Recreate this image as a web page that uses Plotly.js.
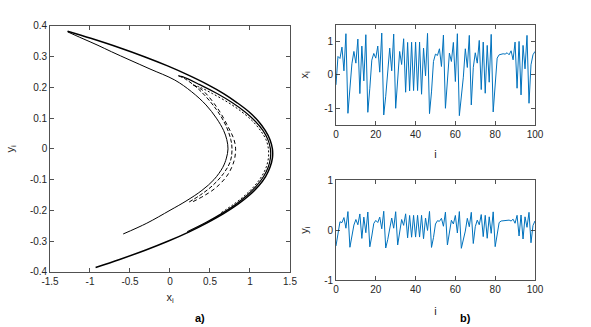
<!DOCTYPE html>
<html>
<head>
<meta charset="utf-8">
<script src="https://cdn.plot.ly/plotly-3.0.1.min.js"></script>
<style>
  html, body { margin: 0; padding: 0; background: #fff; }
  #chart { width: 591px; height: 327px; }
</style>
</head>
<body>
<div id="chart"></div>
<script>
// a) attractor strands (x_i, y_i)
var outerX = [-1.28, -0.99, -0.64, -0.32, -0.03, 0.23, 0.465, 0.67, 0.84, 0.99, 1.105, 1.19, 1.25, 1.28, 1.28, 1.25, 1.195, 1.11, 0.995, 0.85, 0.675, 0.47, 0.24, -0.02, -0.31, -0.63, -0.93];
var outerY = [0.383, 0.36, 0.33, 0.30, 0.27, 0.24, 0.21, 0.18, 0.15, 0.12, 0.09, 0.06, 0.03, 0.0, -0.03, -0.06, -0.09, -0.12, -0.15, -0.18, -0.21, -0.24, -0.27, -0.30, -0.33, -0.36, -0.386];

var innerX = [-1.28, -1.1, -0.9, -0.73, -0.5, -0.25, 0.06, 0.27, 0.45, 0.58, 0.67, 0.71, 0.725, 0.705, 0.66, 0.55, 0.40, 0.2, 0.0, -0.29, -0.585];
var innerY = [0.381, 0.36, 0.337, 0.316, 0.289, 0.26, 0.224, 0.186, 0.143, 0.1, 0.06, 0.03, 0.0, -0.03, -0.06, -0.1, -0.135, -0.17, -0.2, -0.242, -0.277];

// fold near (0.11, 0.24): upper branch into the outer band, lower branch inside
var hook1UpX = [0.105, 0.155, 0.365, 0.588, 0.78, 0.939, 1.066, 1.161, 1.224, 1.255, 1.255, 1.227, 1.17, 1.083, 0.968, 0.823, 0.65, 0.448, 0.216];
var hook1UpY = [0.238, 0.235, 0.21, 0.18, 0.15, 0.12, 0.09, 0.06, 0.03, 0.0, -0.03, -0.06, -0.09, -0.12, -0.15, -0.18, -0.21, -0.24, -0.27];
var hook1LowX = [0.105, 0.2, 0.375, 0.58, 0.7, 0.76, 0.775, 0.755, 0.67, 0.53, 0.38, 0.22];
var hook1LowY = [0.238, 0.226, 0.19, 0.128, 0.075, 0.03, 0.0, -0.04, -0.08, -0.12, -0.15, -0.176];

// fold near (0.29, 0.21)
var hook2UpX = [0.29, 0.38, 0.53, 0.733, 0.9, 1.033, 1.13, 1.2, 1.23, 1.23, 1.202, 1.145, 1.058, 0.943, 0.798, 0.625];
var hook2UpY = [0.208, 0.2, 0.18, 0.15, 0.12, 0.09, 0.06, 0.03, 0.0, -0.03, -0.06, -0.09, -0.12, -0.15, -0.18, -0.21];
var hook2LowX = [0.29, 0.41, 0.6, 0.73, 0.8, 0.82, 0.8, 0.72, 0.58, 0.43, 0.27];
var hook2LowY = [0.208, 0.19, 0.13, 0.07, 0.03, 0.0, -0.04, -0.085, -0.125, -0.152, -0.174];

// b) time series, i = 0..100
var xSeries = [-0.30, 0.55, 0.49, 0.83, 0.12, 1.23, -1.15, -0.48, 0.33, 0.70,
  0.35, 1.07, -0.56, 0.86, -0.18, 1.20, -1.12, -0.40, 0.44, 0.64,
  0.50, 0.86, 0.08, 1.25, -1.20, -0.64, 0.07, 0.80, 0.12, 1.22,
  -1.00, -0.03, 0.70, 0.31, 1.08, -0.52, 0.97, -0.48, 0.975, -0.47,
  0.98, -0.47, 0.98, -0.58, 0.80, -0.03, 1.24, -1.16, -0.51, 0.40,
  0.62, 0.58, 0.78, 0.25, 1.19, -1.00, -0.04, 0.65, 0.40, 0.97,
  -0.20, 1.23, -1.22, -0.71, -0.07, 0.78, 0.22, 1.18, -0.90, 0.22,
  0.66, 0.35, 1.03, -0.44, 0.98, -0.55, 0.88, -0.22, 1.21, -1.11,
  -0.36, 0.50, 0.60, 0.62, 0.63, 0.62, 0.66, 0.60, 0.72, 0.45,
  0.98, -0.40, 1.00, -0.60, 0.88, 0.18, 1.18, -0.85, 0.30, 0.60,
  0.70];
var ySeries = [-0.32, -0.09, 0.165, 0.147, 0.249, 0.036, 0.369, -0.345, -0.144, 0.099,
  0.21, 0.105, 0.321, -0.168, 0.258, -0.054, 0.36, -0.336, -0.12, 0.132,
  0.192, 0.15, 0.258, 0.024, 0.375, -0.36, -0.192, 0.021, 0.24, 0.036,
  0.366, -0.30, -0.009, 0.21, 0.093, 0.324, -0.156, 0.291, -0.144, 0.293,
  -0.141, 0.294, -0.141, 0.294, -0.174, 0.24, -0.009, 0.372, -0.348, -0.153,
  0.12, 0.186, 0.174, 0.234, 0.075, 0.357, -0.30, -0.012, 0.195, 0.12,
  0.291, -0.06, 0.369, -0.366, -0.213, -0.021, 0.234, 0.066, 0.354, -0.27,
  0.066, 0.198, 0.105, 0.309, -0.132, 0.294, -0.165, 0.264, -0.066, 0.363,
  -0.333, -0.108, 0.15, 0.18, 0.186, 0.189, 0.186, 0.198, 0.18, 0.216,
  0.135, 0.294, -0.12, 0.30, -0.18, 0.264, 0.054, 0.354, -0.255, 0.09,
  0.18];
var steps = xSeries.map((v, i) => i);

// tick labels (MATLAB uses a plain hyphen)
var attrXTicks = [-1.5, -1, -0.5, 0, 0.5, 1, 1.5];
var attrXText = ["-1.5", "-1", "-0.5", "0", "0.5", "1", "1.5"];
var attrYTicks = [-0.4, -0.3, -0.2, -0.1, 0, 0.1, 0.2, 0.3, 0.4];
var attrYText = ["-0.4", "-0.3", "-0.2", "-0.1", "0", "0.1", "0.2", "0.3", "0.4"];
var stepTicks = [0, 20, 40, 60, 80, 100];
var seriesTicks = [-1, 0, 1];
var seriesText = ["-1", "0", "1"];

var ink = "#262626";
var blue = "#0072BD";
var fontFam = "Liberation Sans, Arial, sans-serif";

function strand(xs, ys, width, dash) {
    return {
        x: xs, y: ys, xaxis: "x", yaxis: "y",
        type: "scatter", mode: "lines",
        line: { color: "#000", width: width, dash: dash, shape: "spline", smoothing: 1 },
        hoverinfo: "skip", showlegend: false
    };
}

var data = [
    strand(outerX, outerY, 1.5, "solid"),
    strand(innerX, innerY, 1.0, "solid"),
    strand(hook1UpX, hook1UpY, 1.2, "solid"),
    strand(hook1LowX, hook1LowY, 1.0, "4px,2px"),
    strand(hook2UpX, hook2UpY, 1.0, "2px,2px"),
    strand(hook2LowX, hook2LowY, 1.0, "4px,3px"),
    {
        x: steps, y: xSeries, xaxis: "x2", yaxis: "y2",
        type: "scatter", mode: "lines",
        line: { color: blue, width: 1 }, showlegend: false
    },
    {
        x: steps, y: ySeries, xaxis: "x3", yaxis: "y3",
        type: "scatter", mode: "lines",
        line: { color: blue, width: 1 }, showlegend: false
    }
];

function axis(extra) {
    var base = {
        showline: true, mirror: "ticks", linecolor: ink, linewidth: 0.8,
        ticks: "inside", ticklen: 4, tickwidth: 0.8, tickcolor: ink,
        showgrid: false, zeroline: false, fixedrange: true,
        tickfont: { family: fontFam, size: 10, color: ink }
    };
    for (var k in extra) base[k] = extra[k];
    return base;
}
var titleFont = { family: fontFam, size: 11, color: ink };

var layout = {
    width: 591, height: 327,
    margin: { l: 0, r: 0, t: 0, b: 0 },
    paper_bgcolor: "#fff", plot_bgcolor: "#fff",
    showlegend: false, hovermode: false,
    xaxis: axis({ domain: [0.0846, 0.4907], range: [-1.5, 1.5], anchor: "y",
        tickvals: attrXTicks, ticktext: attrXText,
        title: { text: "x<sub>i</sub>", font: titleFont, standoff: 7 } }),
    yaxis: axis({ domain: [0.169, 0.9205], range: [-0.4, 0.4], anchor: "x",
        tickvals: attrYTicks, ticktext: attrYText,
        title: { text: "y<sub>i</sub>", font: titleFont, standoff: 13 } }),
    xaxis2: axis({ domain: [0.5685, 0.9052], range: [0, 100], anchor: "y2",
        tickvals: stepTicks,
        title: { text: "i", font: titleFont, standoff: 11 } }),
    yaxis2: axis({ domain: [0.6177, 0.9245], range: [-1.5, 1.5], anchor: "x2",
        tickvals: seriesTicks, ticktext: seriesText,
        title: { text: "x<sub>i</sub>", font: titleFont, standoff: 13 } }),
    xaxis3: axis({ domain: [0.5685, 0.9052], range: [0, 100], anchor: "y3",
        tickvals: stepTicks,
        title: { text: "i", font: titleFont, standoff: 13 } }),
    yaxis3: axis({ domain: [0.1437, 0.4495], range: [-1, 1], anchor: "x3",
        tickvals: seriesTicks, ticktext: seriesText,
        title: { text: "y<sub>i</sub>", font: titleFont, standoff: 13 } }),
    annotations: [
        { text: "<b>a)</b>", x: 0.3384, y: 0.026, xref: "paper", yref: "paper",
          xanchor: "center", yanchor: "middle",
          showarrow: false, font: { family: fontFam, size: 11, color: "#000" } },
        { text: "<b>b)</b>", x: 0.787, y: 0.026, xref: "paper", yref: "paper",
          xanchor: "center", yanchor: "middle",
          showarrow: false, font: { family: fontFam, size: 11, color: "#000" } }
    ]
};

Plotly.newPlot("chart", data, layout, { staticPlot: true, displayModeBar: false });
</script>
</body>
</html>
